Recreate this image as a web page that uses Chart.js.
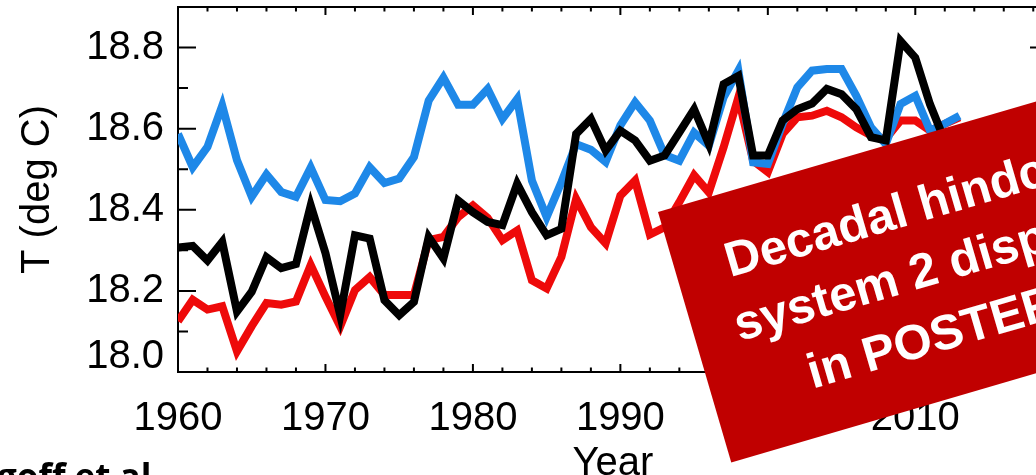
<!DOCTYPE html>
<html lang="en">
<head>
    <meta charset="UTF-8">
    <title>T (deg C) 1960-2013</title>
    <script src="https://cdn.jsdelivr.net/npm/chart.js"></script>
    <style>
        html, body { margin: 0; padding: 0; background: #fff; overflow: hidden; }
        #myChart { display: block; }
    </style>
</head>
<body>
    <canvas id="myChart" width="1066" height="475"></canvas>

    <script>
        const years = [1960, 1961, 1962, 1963, 1964, 1965, 1966, 1967, 1968, 1969,
                       1970, 1971, 1972, 1973, 1974, 1975, 1976, 1977, 1978, 1979,
                       1980, 1981, 1982, 1983, 1984, 1985, 1986, 1987, 1988, 1989,
                       1990, 1991, 1992, 1993, 1994, 1995, 1996, 1997, 1998, 1999,
                       2000, 2001, 2002, 2003, 2004, 2005, 2006, 2007, 2008, 2009,
                       2010, 2011, 2012, 2013];

        const blueValues = [18.587, 18.505, 18.555, 18.657, 18.522, 18.432, 18.487, 18.444, 18.432, 18.504,
                            18.424, 18.421, 18.440, 18.505, 18.466, 18.477, 18.530, 18.669, 18.726, 18.659,
                            18.659, 18.698, 18.624, 18.673, 18.472, 18.382, 18.468, 18.562, 18.548, 18.518,
                            18.608, 18.665, 18.620, 18.535, 18.521, 18.590, 18.558, 18.677, 18.743, 18.517,
                            18.513, 18.612, 18.702, 18.743, 18.747, 18.747, 18.681, 18.603, 18.562, 18.661,
                            18.681, 18.595, 18.612, 18.632];

        const blackValues = [18.307, 18.311, 18.275, 18.321, 18.149, 18.198, 18.283, 18.256, 18.266, 18.411,
                             18.293, 18.140, 18.337, 18.329, 18.177, 18.140, 18.173, 18.333, 18.280, 18.423,
                             18.394, 18.370, 18.362, 18.464, 18.394, 18.337, 18.353, 18.587, 18.624, 18.546,
                             18.595, 18.571, 18.521, 18.534, 18.591, 18.648, 18.562, 18.710, 18.730, 18.534,
                             18.534, 18.620, 18.648, 18.662, 18.698, 18.685, 18.648, 18.579, 18.571, 18.816,
                             18.775, 18.660, 18.570];

        const redValues = [18.125, 18.178, 18.154, 18.162, 18.051, 18.113, 18.170, 18.166, 18.174, 18.264,
                           18.186, 18.112, 18.202, 18.234, 18.190, 18.190, 18.190, 18.325, 18.333, 18.382,
                           18.411, 18.380, 18.325, 18.349, 18.226, 18.206, 18.284, 18.427, 18.357, 18.317,
                           18.435, 18.472, 18.339, 18.357, 18.419, 18.485, 18.443, 18.554, 18.677, 18.521,
                           18.493, 18.587, 18.628, 18.632, 18.644, 18.628, 18.603, 18.583, 18.575, 18.620,
                           18.620, 18.595, 18.612, 18.628];

        const xTickLabels = ['1960', '1970', '1980', '1990', '2000', '2010'];
        const yTickLabels = ['18.0', '18.2', '18.4', '18.6', '18.8'];

        const bannerLines = ['Decadal hindcasts', 'system 2 displayed', 'in POSTER'];

        const axisFont = '"Liberation Sans", Arial, Helvetica, sans-serif';

        function toPoints(values) {
            return values.map((v, i) => ({x: years[i], y: v}));
        }

        // IDL style box: frame plus inward ticks on all four sides
        const boxTicksPlugin = {
            id: 'boxTicks',
            beforeDatasetsDraw(chart) {
                const {ctx, chartArea: a, scales: {x, y}} = chart;
                ctx.save();
                ctx.strokeStyle = '#000';
                ctx.lineWidth = 2;
                ctx.strokeRect(a.left, a.top, a.right - a.left, a.bottom - a.top);

                ctx.beginPath();
                for (let i = 0; i <= 9; i++) {
                    const py = y.getPixelForValue(18 + i * 0.1);
                    const len = i % 2 === 0 ? 18 : 10;
                    ctx.moveTo(a.left, py);
                    ctx.lineTo(a.left + len, py);
                    ctx.moveTo(a.right, py);
                    ctx.lineTo(a.right - len, py);
                }
                for (let yr = 1960; yr <= 2018; yr += 2) {
                    const px = x.getPixelForValue(yr);
                    const len = yr % 10 === 0 ? 8 : 4.5;
                    ctx.moveTo(px, a.bottom);
                    ctx.lineTo(px, a.bottom - len);
                    ctx.moveTo(px, a.top);
                    ctx.lineTo(px, a.top + len);
                }
                ctx.stroke();
                ctx.restore();
            }
        };

        // slide overlay: rotated red banner and the cut-off citation
        const bannerPlugin = {
            id: 'banner',
            afterDraw(chart) {
                const {ctx} = chart;
                ctx.save();
                ctx.translate(658, 212);
                ctx.rotate(-16.3 * Math.PI / 180);
                ctx.fillStyle = '#c00000';
                ctx.fillRect(0, 0, 760, 261);
                ctx.fillStyle = '#fff';
                ctx.font = 'bold 49px ' + axisFont;
                ctx.textBaseline = 'alphabetic';
                ctx.fillText(bannerLines[0], 51, 83);
                ctx.fillText(bannerLines[1], 42, 147);
                ctx.fillText(bannerLines[2], 99, 213);
                ctx.restore();

                ctx.save();
                ctx.fillStyle = '#000';
                ctx.font = 'bold 35px "Open Sans", sans-serif';
                ctx.fillText('goff et al', -3, 489);
                ctx.restore();
            }
        };

        const config = {
            type: 'line',
            data: {
                datasets: [
                    {
                        label: 'black',
                        data: toPoints(blackValues),
                        borderColor: '#000000',
                        order: 0
                    },
                    {
                        label: 'blue',
                        data: toPoints(blueValues),
                        borderColor: '#1e88e8',
                        order: 1
                    },
                    {
                        label: 'red',
                        data: toPoints(redValues),
                        borderColor: '#ee0a0a',
                        order: 2
                    }
                ]
            },
            options: {
                responsive: false,
                animation: false,
                layout: {
                    padding: {left: 0, top: 7, right: 18, bottom: 0}
                },
                elements: {
                    line: {borderWidth: 8, tension: 0, borderJoinStyle: 'miter', borderCapStyle: 'butt'},
                    point: {radius: 0, hoverRadius: 0}
                },
                plugins: {
                    legend: {display: false},
                    tooltip: {enabled: false}
                },
                scales: {
                    x: {
                        type: 'linear',
                        min: 1960,
                        max: 2019,
                        grid: {display: false},
                        border: {display: false},
                        ticks: {
                            stepSize: 10,
                            includeBounds: false,
                            autoSkip: false,
                            maxRotation: 0,
                            padding: 15,
                            color: '#000',
                            font: {family: axisFont, size: 40},
                            callback: (v) => xTickLabels.includes(String(v)) ? String(v) : ''
                        },
                        title: {
                            display: true,
                            text: 'Year',
                            color: '#000',
                            font: {family: axisFont, size: 40, lineHeight: '22px'},
                            padding: {top: 0, bottom: 0}
                        },
                        afterFit(scale) {
                            scale.height = 103;
                            scale.paddingLeft = 0;
                            scale.paddingRight = 0;
                        }
                    },
                    y: {
                        min: 18.0,
                        max: 18.9,
                        grid: {display: false},
                        border: {display: false},
                        ticks: {
                            stepSize: 0.2,
                            includeBounds: false,
                            padding: 6,
                            color: '#000',
                            font: {family: axisFont, size: 40, lineHeight: '30px'},
                            callback: (v) => {
                                const s = v.toFixed(1);
                                if (!yTickLabels.includes(s)) return '';
                                return s === '18.0' ? [s, ''] : s;
                            }
                        },
                        title: {
                            display: true,
                            text: 'T (deg C)',
                            color: '#000',
                            font: {family: axisFont, size: 40},
                            padding: {top: 14, bottom: 0}
                        },
                        afterFit(scale) {
                            scale.width = 178;
                            scale.paddingTop = 0;
                            scale.paddingBottom = 0;
                        }
                    }
                }
            },
            plugins: [boxTicksPlugin, bannerPlugin]
        };

        const ctx = document.getElementById('myChart').getContext('2d');
        new Chart(ctx, config);
    </script>
</body>
</html>
